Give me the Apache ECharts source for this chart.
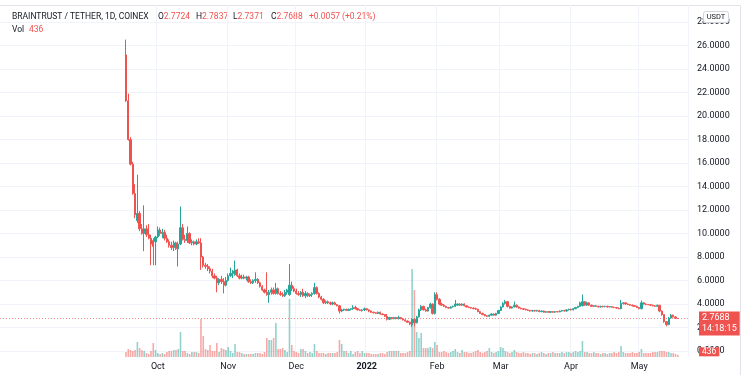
<!DOCTYPE html>
<html><head><meta charset="utf-8">
<script src="https://cdn.jsdelivr.net/npm/echarts@6/dist/echarts.min.js"></script>
<style>html,body{margin:0;padding:0;background:#fff}#c{width:750px;height:375px}</style>
</head><body><div id="c"></div>
<script>
// ---------------- DATA ----------------
const firstDate = '2021-09-17';
const open = [
25.2,21.3,18.0,15.9,13.4,11.1,11.7,10.4,10.0,10.4,
9.9,9.6,9.4,9.3,9.7,10.3,10.0,10.1,9.6,9.3,
9.0,8.8,9.2,8.7,9.1,10.5,9.5,9.4,10.0,9.2,
9.3,9.1,9.3,9.2,8.0,7.3,7.2,7.0,6.8,6.4,
6.2,5.8,6.1,5.9,5.6,6.0,6.4,6.6,6.5,6.9,
6.4,6.2,6.3,6.2,6.3,5.9,5.8,6.0,6.1,5.8,
5.5,5.2,5.0,4.8,5.0,5.2,4.9,5.3,4.9,4.8,
4.7,5.0,4.8,5.6,5.3,5.1,4.9,4.8,5.0,4.7,
4.9,4.7,4.8,4.9,5.4,4.9,4.6,4.4,4.1,4.2,
4.1,4.0,4.1,3.95,3.85,3.4,3.5,3.55,3.45,3.55,
3.6,3.7,3.6,3.5,3.45,3.5,3.6,3.5,3.4,3.3,
3.25,3.2,3.3,3.15,3.1,2.95,2.7,2.85,2.75,2.85,
2.75,2.85,2.75,2.65,2.55,2.45,2.25,2.7,2.4,2.9,
3.5,3.8,3.5,3.4,3.7,4.0,3.2,4.8,4.4,4.0,
3.9,3.8,3.7,3.65,3.75,3.8,3.9,4.0,3.9,4.0,
3.85,3.75,3.7,3.65,3.6,3.55,3.35,3.2,3.1,3.0,
2.95,3.05,3.15,3.05,3.2,3.45,3.75,4.05,4.2,3.8,
3.65,3.75,3.9,3.75,3.65,3.6,3.55,3.5,3.45,3.4,
3.45,3.4,3.45,3.35,3.4,3.3,3.35,3.3,3.35,3.3,
3.35,3.33,3.4,3.45,3.4,3.5,3.55,3.5,3.6,3.7,
3.8,3.85,4.2,3.9,4.1,3.9,3.8,3.85,3.8,3.75,
3.8,3.78,3.8,3.75,3.78,3.72,3.7,3.65,3.6,4.05,
4.1,4.0,3.95,3.9,3.85,3.8,3.7,3.6,4.1,4.0,
3.95,3.93,3.9,3.85,3.8,3.9,3.4,3.1,2.5,2.25,
2.8,3.05,2.9,2.7724];
const high = [
26.5,21.9,18.2,16.1,14.2,15.0,11.9,10.8,12.4,10.7,
10.8,9.9,9.6,9.8,10.6,10.5,10.4,10.3,9.9,9.5,
9.3,9.4,9.3,9.3,12.3,10.8,9.9,10.6,10.1,9.5,
9.4,9.5,9.6,9.6,8.1,7.5,7.4,7.2,7.0,6.6,
6.4,6.2,6.4,6.2,6.3,6.6,7.1,6.9,7.7,7.0,
6.6,6.5,6.5,6.4,6.4,6.1,6.1,6.7,6.2,5.9,
5.6,5.3,6.7,5.2,5.4,5.4,5.8,5.4,5.1,5.0,
5.2,5.3,7.4,5.9,5.5,5.3,5.1,5.1,5.3,5.1,
5.0,4.9,5.0,5.8,5.5,5.0,4.7,4.5,4.3,4.3,
4.2,4.2,4.2,4.0,3.9,3.6,3.6,3.6,3.6,3.65,
3.9,3.85,3.65,3.55,3.55,3.7,3.65,3.55,3.45,3.35,
3.3,3.35,3.35,3.2,3.15,3.15,2.9,2.9,2.9,2.9,
3.0,2.9,2.8,2.7,2.6,2.5,2.8,2.75,3.0,3.6,
3.9,3.85,3.6,3.75,4.1,4.05,5.0,5.0,4.5,4.1,
4.0,3.85,3.75,3.8,3.85,4.35,4.05,4.05,4.05,4.05,
3.9,3.8,3.75,3.7,3.7,3.6,3.4,3.25,3.15,3.05,
3.1,3.2,3.2,3.25,3.5,3.8,4.15,4.35,4.25,3.85,
3.8,4.2,3.95,3.8,3.7,3.65,3.6,3.55,3.5,3.5,
3.5,3.5,3.5,3.45,3.45,3.4,3.4,3.4,3.4,3.4,
3.4,3.45,3.5,3.5,3.55,3.6,3.6,3.65,3.75,3.85,
4.2,4.8,4.25,4.2,4.15,3.95,3.9,3.9,3.85,3.85,
3.85,3.85,3.85,3.82,3.8,3.78,3.72,3.7,4.35,4.15,
4.12,4.05,4.0,3.95,3.9,3.85,3.75,4.3,4.15,4.05,
4.0,4.0,3.95,3.9,3.95,3.92,3.45,3.15,2.55,2.9,
3.15,3.1,2.95,2.7837];
const low = [
21.2,17.9,15.8,13.3,11.3,10.9,10.2,9.9,8.5,9.7,
9.5,7.3,7.3,7.3,9.6,9.8,9.6,9.4,9.2,8.8,
8.6,8.5,8.6,7.2,9.0,9.4,9.2,9.2,9.1,9.0,
9.0,9.0,9.1,6.9,7.1,7.0,6.8,6.6,6.2,6.1,
5.0,5.6,5.7,4.9,5.5,5.9,6.3,6.2,6.4,6.3,
6.1,6.1,6.1,6.0,5.8,5.7,5.7,5.8,5.7,5.4,
5.1,4.9,4.7,4.1,4.8,4.8,4.8,4.8,4.7,4.6,
4.6,4.8,4.7,5.1,5.0,4.8,4.7,4.6,4.6,4.5,
4.6,4.6,4.6,4.8,4.8,4.5,4.3,4.0,4.0,4.0,
3.9,3.9,3.9,3.8,3.2,3.3,3.4,3.4,3.4,3.45,
3.5,3.55,3.45,3.4,3.35,3.4,3.45,3.3,3.25,3.2,
3.15,3.15,3.1,3.05,2.9,2.6,2.65,2.7,2.7,2.7,
2.7,2.7,2.6,2.5,2.4,2.2,2.05,2.1,2.35,2.85,
3.4,3.45,3.35,3.35,3.6,3.1,3.1,4.3,3.9,3.85,
3.75,3.65,3.6,3.6,3.7,3.75,3.85,3.85,3.85,3.8,
3.7,3.65,3.6,3.55,3.5,3.3,3.15,3.05,2.95,2.9,
2.9,3.0,3.0,3.0,3.15,3.4,3.7,3.95,3.7,3.6,
3.6,3.7,3.7,3.6,3.55,3.5,3.45,3.4,3.35,3.35,
3.35,3.35,3.3,3.3,3.25,3.25,3.25,3.25,3.25,3.25,
3.3,3.3,3.35,3.35,3.35,3.45,3.45,3.45,3.55,3.65,
3.75,3.8,3.85,3.85,3.85,3.75,3.75,3.75,3.7,3.7,
3.7,3.72,3.7,3.7,3.7,3.65,3.6,3.55,3.55,3.95,
3.95,3.9,3.85,3.8,3.75,3.65,3.55,3.55,3.95,3.9,
3.9,3.85,3.8,3.75,3.75,3.3,3.0,2.4,2.1,2.2,
2.75,2.85,2.75,2.7371];
const close = [
21.3,18.0,15.9,13.4,11.6,11.7,10.4,10.0,10.4,9.9,
9.6,9.1,8.9,9.7,10.3,10.0,10.1,9.6,9.3,9.0,
8.8,9.2,8.7,9.1,10.5,9.5,9.4,10.0,9.2,9.3,
9.1,9.3,9.2,8.0,7.3,7.2,7.0,6.8,6.4,6.2,
5.8,6.1,5.9,5.6,6.0,6.4,6.6,6.8,6.9,6.4,
6.2,6.3,6.2,6.3,5.9,5.8,6.0,6.1,5.8,5.5,
5.2,5.0,4.8,5.0,5.2,4.9,5.3,4.9,4.8,4.7,
5.0,5.2,5.6,5.3,5.1,4.9,4.8,5.0,4.7,4.9,
4.7,4.8,4.9,5.4,4.9,4.6,4.4,4.1,4.2,4.1,
4.0,4.1,3.95,3.85,3.4,3.5,3.55,3.45,3.55,3.6,
3.7,3.6,3.5,3.45,3.5,3.6,3.5,3.4,3.3,3.25,
3.2,3.3,3.15,3.1,2.95,2.7,2.85,2.75,2.85,2.75,
2.85,2.75,2.65,2.55,2.45,2.3,2.7,2.4,2.9,3.5,
3.8,3.5,3.4,3.7,4.0,3.2,4.8,4.4,4.0,3.9,
3.8,3.7,3.65,3.75,3.8,4.0,4.0,3.9,4.0,3.85,
3.75,3.7,3.65,3.6,3.55,3.35,3.2,3.1,3.0,2.95,
3.05,3.15,3.05,3.2,3.45,3.75,4.05,4.2,3.8,3.65,
3.75,3.9,3.75,3.65,3.6,3.55,3.5,3.45,3.4,3.45,
3.4,3.45,3.35,3.4,3.3,3.35,3.3,3.35,3.3,3.35,
3.33,3.4,3.45,3.4,3.5,3.55,3.5,3.6,3.7,3.8,
4.1,4.2,3.9,4.1,3.9,3.8,3.85,3.8,3.75,3.8,
3.78,3.8,3.75,3.78,3.72,3.7,3.65,3.6,4.05,4.1,
4.0,3.95,3.9,3.85,3.8,3.7,3.6,4.1,4.0,3.95,
3.93,3.9,3.85,3.8,3.9,3.4,3.1,2.5,2.25,2.8,
3.05,2.9,2.78,2.7688];
const volume = [
1000,1600,1400,1200,1400,3000,1800,1400,1200,800,
600,1200,2800,1400,800,600,800,600,1000,1200,
1200,1400,1400,1600,5000,1200,1200,800,600,1000,
1000,1000,800,7600,4200,1600,1400,2400,1200,1200,
2800,1000,1800,1600,1400,2000,1200,800,2600,1000,
1000,800,600,600,600,600,600,800,800,800,
600,1000,3800,3400,3400,3800,6800,1600,1600,1800,
1400,1000,11600,2400,1200,1000,800,1600,1600,1200,
800,1000,800,2600,1200,800,800,800,600,800,
800,800,800,1000,3400,2600,1200,1200,800,1200,
600,1000,1200,800,1200,800,800,800,600,600,
600,600,800,800,600,1000,1200,1200,1200,1200,
1200,800,800,800,1000,1200,17600,13400,5000,3800,
4800,1800,1800,1800,2000,1800,3000,2400,1000,1000,
1200,1000,800,1000,1200,1600,1000,800,1400,1000,
1000,800,800,1000,1200,1400,1000,800,1000,1200,
1800,1000,800,1000,1200,2000,1800,1200,1000,800,
1000,1400,1000,800,800,1000,800,800,600,800,
800,600,800,1000,800,600,800,800,1000,800,
800,800,1000,800,1000,1000,800,1000,1200,1000,
1200,3200,1000,1000,800,800,1000,800,800,600,
800,800,600,800,800,1000,800,1000,2200,1000,
800,800,800,1000,800,800,1000,1600,800,800,
800,800,1000,1000,1000,1200,1200,1200,1000,1000,
800,800,600,436];
const monthNames = ['Jan','Feb','Mar','Apr','May','Jun','Jul','Aug','Sep','Oct','Nov','Dec'];
const titleText = 'BRAINTRUST / TETHER, 1D, COINEX';
const ohlcLabels = ['O','H','L','C'];
const ohlcValues = ['2.7724','2.7837','2.7371','2.7688'];
const changeText = '+0.0057 (+0.21%)';
const volLabel = 'Vol';
const lastPrice = 2.7688;
const countdown = '14:18:15';
const lastVolume = 436;
const currency = 'USDT';

// ---------------- LAYOUT / STYLE ----------------
const PAD_LEFT = 55, PAD_RIGHT = 4;
const UP = '#26a69a', DN = '#ef5350';
const UP_A = 'rgba(38,166,154,0.5)', DN_A = 'rgba(239,83,80,0.5)';
const TXT = '#131722';
const FONT = 'Roboto, "Liberation Sans", sans-serif';
const n = open.length;
const DAY = 86400000;
const start = Date.parse(firstDate + 'T00:00:00Z') - PAD_LEFT * DAY;
const dates = [];
for (let k = 0; k < PAD_LEFT + n + PAD_RIGHT; k++) {
  dates.push(new Date(start + k * DAY).toISOString().slice(0, 10));
}
const candleData = dates.map((_, k) => {
  const i = k - PAD_LEFT;
  return (i >= 0 && i < n) ? [open[i], close[i], low[i], high[i]] : ['-', '-', '-', '-'];
});
const volData = dates.map((_, k) => {
  const i = k - PAD_LEFT;
  if (i < 0 || i >= n) return '-';
  return { value: volume[i], itemStyle: { color: close[i] >= open[i] ? UP_A : DN_A } };
});
const isMonthStart = (index, value) => index >= PAD_LEFT && value.slice(8) === '01';

const chart = echarts.init(document.getElementById('c'), null, { renderer: 'canvas' });
const ohlcGraphics = [];
const ohlcX = [158, 196, 233, 271];
ohlcLabels.forEach((l, j) => {
  ohlcGraphics.push({
    type: 'text', x: ohlcX[j], y: 16.5, silent: true,
    style: { text: '{d|' + l + '}{r|' + ohlcValues[j] + '}', verticalAlign: 'middle',
      fontSize: 8.5, fontFamily: FONT,
      rich: { d: { fill: TXT, fontSize: 8.5, fontFamily: FONT }, r: { fill: DN, fontSize: 8.5, fontFamily: FONT } } }
  });
});

chart.setOption({
  animation: false,
  backgroundColor: '#fff',
  grid: [
    { left: 0, right: 62, top: 22, bottom: 24 },
    { left: 0, right: 62, top: 5, bottom: 18 }
  ],
  xAxis: [
    { type: 'category', gridIndex: 0, data: dates, show: false, boundaryGap: true },
    { type: 'category', gridIndex: 1, data: dates, boundaryGap: true,
      axisLine: { show: false }, axisTick: { show: false },
      axisLabel: { interval: isMonthStart, fontSize: 9, color: TXT, fontFamily: FONT, margin: 5,
        formatter: (v) => { const m = +v.slice(5, 7); return m === 1 ? '{b|' + v.slice(0, 4) + '}' : monthNames[m - 1]; },
        rich: { b: { fontWeight: 'bold', fontSize: 9, color: TXT, fontFamily: FONT } } },
      splitLine: { show: true, interval: isMonthStart, lineStyle: { color: '#f0f3fa', width: 1 } } }
  ],
  yAxis: [
    { type: 'value', gridIndex: 0, position: 'right', min: 0, max: 28, interval: 2,
      axisLine: { show: false }, axisTick: { show: false },
      axisLabel: { fontSize: 9, color: TXT, fontFamily: FONT, margin: 9, formatter: (v) => v.toFixed(4) },
      splitLine: { lineStyle: { color: '#f0f3fa', width: 1 } } },
    { type: 'value', gridIndex: 1, min: 0, max: 70400, show: false, splitLine: { show: false } }
  ],
  series: [
    { type: 'bar', xAxisIndex: 1, yAxisIndex: 1, data: volData, barWidth: 1.6, z: 1,
      markLine: { silent: true, symbol: 'none', animation: false,
        lineStyle: { color: 'rgba(0,0,0,0)', width: 1 },
        data: [{ yAxis: lastVolume }],
        label: { show: true, position: 'end', distance: 11, formatter: String(lastVolume),
          backgroundColor: DN, color: '#fff', fontSize: 8.5, lineHeight: 9, padding: [0, 3, 0, 3],
          fontFamily: FONT, offset: [0, -3] } } },
    { type: 'candlestick', xAxisIndex: 0, yAxisIndex: 0, data: candleData, barWidth: 1.8, z: 3,
      itemStyle: { color: UP, color0: DN, borderColor: UP, borderColor0: DN, borderWidth: 1 },
      markLine: { silent: true, symbol: 'none', animation: false,
        lineStyle: { color: 'rgba(239,83,80,0.7)', type: [1, 2], width: 1 },
        data: [{ yAxis: lastPrice }],
        label: { show: true, position: 'end', distance: 11,
          formatter: lastPrice.toFixed(4) + '\n' + countdown,
          backgroundColor: DN, color: '#fff', fontSize: 9, lineHeight: 11, padding: [1, 3, 1, 3],
          fontFamily: FONT, offset: [0, 5] } } }
  ],
  graphic: [
    { type: 'line', silent: true, shape: { x1: 0, y1: 5.5, x2: 740.5, y2: 5.5 }, style: { stroke: '#e0e3eb', lineWidth: 1 } },
    { type: 'line', silent: true, shape: { x1: 740.5, y1: 5.5, x2: 740.5, y2: 375 }, style: { stroke: '#e0e3eb', lineWidth: 1 } },
    { type: 'text', x: 12, y: 16.5, silent: true,
      style: { text: titleText, fill: TXT, fontSize: 8.5, fontFamily: FONT, verticalAlign: 'middle' } },
    ...ohlcGraphics,
    { type: 'text', x: 309, y: 16.5, silent: true,
      style: { text: changeText, fill: DN, fontSize: 8.5, fontFamily: FONT, verticalAlign: 'middle' } },
    { type: 'text', x: 12, y: 30, silent: true,
      style: { text: volLabel, fill: TXT, fontSize: 8.5, fontFamily: FONT, verticalAlign: 'middle' } },
    { type: 'text', x: 29, y: 30, silent: true,
      style: { text: String(lastVolume), fill: DN, fontSize: 8.5, fontFamily: FONT, verticalAlign: 'middle' } },
    { type: 'rect', silent: true, z: 100, shape: { x: 703.5, y: 11.5, width: 25, height: 11, r: 2 },
      style: { fill: '#fff', stroke: '#d1d4dc', lineWidth: 1 } },
    { type: 'text', silent: true, z: 101, x: 716, y: 17,
      style: { text: currency, fill: TXT, fontSize: 7.5, fontFamily: FONT, align: 'center', verticalAlign: 'middle' } }
  ]
});
</script>
</body></html>
